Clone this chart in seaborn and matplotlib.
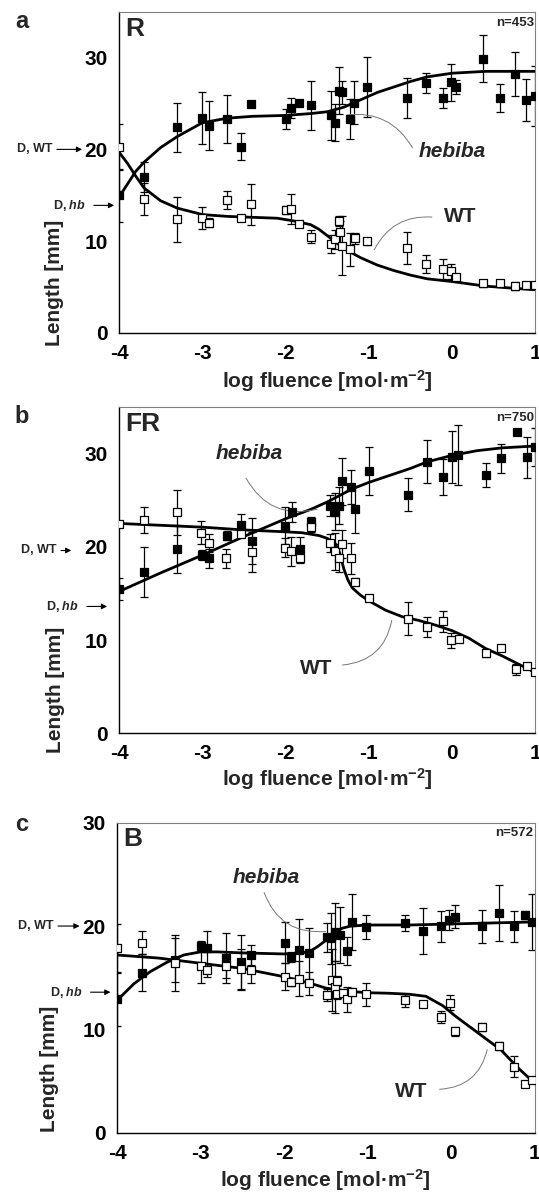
#!/usr/bin/env python3
import matplotlib
matplotlib.use('Agg')
import matplotlib.pyplot as plt
import seaborn as sns

# ---- panel a (R) ----
A_HB_X = [-4.0, -3.70, -3.30, -3.00, -2.92, -2.70, -2.53, -2.42, -2.00, -1.93, -1.84, -1.70, -1.46, -1.41, -1.36,
          -1.32, -1.23, -1.18, -1.02, -0.54, -0.32, -0.11, -0.02, 0.05, 0.37, 0.57, 0.75, 0.89, 1.0]
A_HB_Y = [15.0, 17.0, 22.4, 23.4, 22.6, 23.3, 20.3, 24.9, 23.3, 24.5, 25.0, 24.8, 23.7, 22.9, 26.4,
          26.2, 23.3, 25.1, 26.8, 25.6, 27.2, 25.6, 27.3, 26.8, 29.9, 25.6, 28.2, 25.4, 25.8]
A_HB_ERR = [2.9, 1.6, 2.7, 2.8, 2.7, 2.6, 1.5, 0.3, 1.1, 1.1, 0.3, 2.7, 2.7, 2.0, 2.6,
            1.3, 2.2, 2.3, 3.3, 2.2, 1.1, 1.1, 2.0, 0.8, 2.6, 1.5, 2.4, 2.3, 3.3]
A_WT_X = [-4.0, -3.70, -3.30, -3.00, -2.92, -2.70, -2.53, -2.41, -2.00, -1.93, -1.84, -1.70, -1.46, -1.41, -1.36,
          -1.35, -1.32, -1.23, -1.17, -1.02, -0.54, -0.32, -0.11, -0.02, 0.05, 0.37, 0.57, 0.75, 0.89, 1.0]
A_WT_Y = [20.3, 14.6, 12.4, 12.5, 12.0, 14.5, 12.5, 14.0, 13.4, 13.5, 11.9, 10.5, 9.7, 10.2, 12.2,
          11.0, 9.5, 9.1, 10.3, 10.0, 9.3, 7.5, 7.0, 6.7, 6.1, 5.4, 5.4, 5.1, 5.2, 5.2]
A_WT_ERR = [2.5, 1.7, 2.45, 1.2, 0.5, 1.0, 0.3, 2.2, 0.4, 1.6, 0.3, 0.7, 1.0, 1.0, 0.5,
            1.2, 3.2, 1.8, 0.6, 0.4, 1.75, 0.95, 1.1, 0.8, 0.3, 0.4, 0.3, 0.4, 0.3, 0.3]
A_HB_FIT_X = [-4.0, -3.9, -3.8, -3.7, -3.5, -3.3, -3.0, -2.7, -2.4, -2.0, -1.7, -1.5, -1.3, -1.1, -0.9,
              -0.7, -0.5, -0.3, 0.0, 0.4, 1.0]
A_HB_FIT_Y = [14.8, 16.2, 17.6, 18.6, 20.2, 21.4, 22.9, 23.4, 23.6, 23.7, 23.9, 24.1, 24.6, 25.4, 26.2,
              26.8, 27.4, 27.9, 28.3, 28.5, 28.5]
A_WT_FIT_X = [-4.0, -3.9, -3.8, -3.7, -3.5, -3.3, -3.0, -2.7, -2.4, -2.1, -1.9, -1.7, -1.6, -1.5, -1.3,
              -1.1, -0.9, -0.7, -0.5, -0.3, 0.0, 0.4, 1.0]
A_WT_FIT_Y = [19.7, 18.5, 17.1, 15.8, 14.4, 13.6, 12.9, 12.7, 12.6, 12.5, 12.2, 11.8, 11.3, 10.6, 9.2,
              8.2, 7.4, 6.8, 6.3, 5.9, 5.6, 5.1, 4.7]

# ---- panel b (FR) ----
B_HB_X = [-4.0, -3.70, -3.30, -3.00, -2.92, -2.70, -2.54, -2.40, -2.01, -1.92, -1.83, -1.70, -1.47, -1.41, -1.36,
          -1.32, -1.22, -1.17, -1.00, -0.53, -0.30, -0.11, 0.00, 0.07, 0.40, 0.59, 0.78, 0.90, 1.0]
B_HB_Y = [15.5, 17.3, 19.75, 19.1, 18.75, 21.2, 22.3, 20.6, 22.25, 23.7, 19.8, 22.7, 24.4, 23.75, 24.4,
          27.0, 26.4, 24.0, 28.1, 25.6, 29.1, 27.5, 29.6, 29.8, 27.7, 29.5, 32.25, 29.6, 30.7]
B_HB_ERR = [1.2, 2.7, 2.6, 0.5, 1.0, 0.5, 1.2, 2.5, 2.0, 1.1, 1.2, 0.5, 1.1, 2.0, 2.0,
            2.5, 1.8, 2.5, 2.6, 1.8, 2.3, 1.9, 2.8, 3.2, 1.3, 1.55, 0.3, 2.2, 2.0]
B_WT_X = [-4.0, -3.70, -3.30, -3.01, -2.92, -2.71, -2.53, -2.40, -2.01, -1.93, -1.83, -1.70, -1.47, -1.41, -1.36,
          -1.32, -1.22, -1.17, -1.00, -0.53, -0.30, -0.11, -0.01, 0.08, 0.40, 0.59, 0.77, 0.90, 0.99]
B_WT_Y = [22.4, 22.9, 23.7, 21.5, 20.4, 18.75, 21.4, 19.4, 19.9, 19.5, 18.75, 22.1, 20.4, 19.5, 18.75,
          20.3, 18.75, 16.25, 14.5, 12.3, 11.4, 12.0, 10.0, 10.1, 8.6, 9.2, 6.85, 7.2, 6.6]
B_WT_ERR = [0.3, 1.4, 2.4, 1.25, 1.0, 1.05, 0.3, 2.15, 1.0, 1.55, 0.5, 0.5, 1.0, 2.0, 1.5,
            1.5, 1.7, 0.4, 0.3, 1.75, 1.05, 1.1, 0.8, 0.3, 0.4, 0.3, 0.6, 0.3, 0.3]
B_HB_FIT_X = [-4.0, -3.5, -3.0, -2.5, -2.0, -1.7, -1.5, -1.2, -1.0, -0.7, -0.5, -0.3, 0.0, 0.3, 0.6, 1.0]
B_HB_FIT_Y = [15.2, 17.2, 19.1, 21.1, 23.0, 24.0, 24.8, 26.2, 26.9, 27.8, 28.4, 29.1, 29.8, 30.3, 30.6, 30.8]
B_WT_FIT_X = [-4.0, -3.5, -3.0, -2.5, -2.0, -1.8, -1.6, -1.5, -1.4, -1.35, -1.3, -1.25, -1.2, -1.1, -1.0,
              -0.8, -0.6, -0.4, -0.2, 0.0, 0.2, 0.4, 0.6, 0.8, 1.0]
B_WT_FIT_Y = [22.5, 22.3, 22.1, 21.8, 21.6, 21.5, 21.2, 20.9, 20.3, 19.3, 17.6, 16.4, 15.6, 14.8, 14.2,
              13.2, 12.5, 12.1, 11.6, 11.0, 10.2, 9.1, 8.3, 7.4, 6.5]

# ---- panel c (B) ----
C_HB_X = [-4.0, -3.70, -3.30, -3.00, -2.92, -2.69, -2.52, -2.40, -1.99, -1.92, -1.82, -1.70, -1.49, -1.44, -1.39,
          -1.33, -1.25, -1.18, -1.02, -0.55, -0.33, -0.12, -0.02, 0.05, 0.37, 0.58, 0.76, 0.88, 0.97]
C_HB_Y = [12.9, 15.5, 16.7, 18.1, 17.9, 16.9, 16.5, 17.2, 18.4, 17.0, 17.7, 17.35, 18.9, 18.8, 19.4,
          19.1, 17.6, 20.4, 19.9, 20.3, 19.5, 20.0, 20.6, 20.9, 20.0, 21.3, 20.0, 21.1, 20.4]
C_HB_ERR = [2.55, 1.8, 2.15, 0.5, 1.6, 2.45, 2.6, 1.0, 2.0, 0.5, 3.0, 2.5, 1.4, 2.5, 2.8,
            2.7, 1.35, 2.7, 1.2, 0.8, 2.2, 1.5, 1.0, 1.1, 1.6, 2.7, 1.5, 0.4, 2.7]
C_WT_X = [-4.0, -3.70, -3.30, -3.00, -2.92, -2.69, -2.52, -2.40, -1.99, -1.92, -1.82, -1.70, -1.49, -1.43, -1.39,
          -1.37, -1.36, -1.29, -1.25, -1.18, -1.02, -0.55, -0.33, -0.12, -0.01, 0.05, 0.37, 0.58, 0.76, 0.88, 0.97]
C_WT_Y = [17.9, 18.4, 16.4, 16.1, 15.7, 16.1, 15.8, 15.7, 15.1, 14.6, 14.9, 14.45, 13.3, 14.8, 14.1,
          14.7, 13.4, 13.5, 12.9, 13.65, 13.4, 12.8, 12.45, 11.2, 12.6, 9.8, 10.2, 8.4, 6.4, 4.7, 5.1]
C_WT_ERR = [2.3, 1.1, 2.7, 1.6, 0.6, 1.1, 2.0, 1.2, 1.3, 0.4, 1.7, 1.1, 0.6, 3.0, 2.5,
            0.5, 0.5, 0.4, 1.2, 0.4, 1.1, 0.6, 0.3, 0.6, 0.7, 0.4, 0.4, 0.4, 1.05, 0.3, 0.3]
C_HB_FIT_X = [-4.0, -3.8, -3.6, -3.4, -3.2, -3.0, -2.8, -2.5, -2.0, -1.8, -1.7, -1.6, -1.5, -1.4, -1.3,
              -1.2, -1.0, -0.5, 0.0, 0.5, 1.0]
C_HB_FIT_Y = [12.8, 14.4, 15.6, 16.5, 17.2, 17.5, 17.5, 17.4, 17.3, 17.4, 17.5, 18.0, 18.6, 19.4, 19.8,
              20.0, 20.1, 20.1, 20.2, 20.3, 20.4]
C_WT_FIT_X = [-4.0, -3.5, -3.0, -2.5, -2.0, -1.7, -1.5, -1.25, -1.0, -0.75, -0.5, -0.3, -0.1, 0.05, 0.2,
              0.4, 0.6, 0.8, 1.0]
C_WT_FIT_Y = [17.2, 16.9, 16.4, 15.9, 15.1, 14.5, 14.0, 13.7, 13.55, 13.5, 13.4, 13.2, 12.3, 11.3, 10.4,
              9.2, 8.0, 6.3, 4.8]

PANELS = [
    dict(letter='a', light='R', n='n=453', ymax=35, rect=[0.2208, 0.7209, 0.7727, 0.2693],
         hb=(A_HB_X, A_HB_Y, A_HB_ERR), wt=(A_WT_X, A_WT_Y, A_WT_ERR),
         hb_fit=(A_HB_FIT_X, A_HB_FIT_Y), wt_fit=(A_WT_FIT_X, A_WT_FIT_Y),
         hb_txt=(0.0, 19.8), hb_from=(-0.46, 19.9), hb_to=(-1.30, 23.7), hb_rad=0.35,
         wt_txt=(0.10, 12.7), wt_from=(-0.21, 12.6), wt_to=(-0.95, 8.8), wt_rad=0.35,
         dwt=(20.0, -0.156, -0.082), dhb=(13.9, -0.067, -0.005), ylab_y=0.156, ylab_x=-0.132, xlab_y=-0.15,
         letter_y=0.982),
    dict(letter='b', light='FR', n='n=750', ymax=35, rect=[0.2208, 0.3853, 0.7727, 0.2737],
         hb=(B_HB_X, B_HB_Y, B_HB_ERR), wt=(B_WT_X, B_WT_Y, B_WT_ERR),
         hb_fit=(B_HB_FIT_X, B_HB_FIT_Y), wt_fit=(B_WT_FIT_X, B_WT_FIT_Y),
         hb_txt=(-2.44, 30.0), hb_from=(-2.49, 27.6), hb_to=(-1.59, 24.1), hb_rad=0.4,
         wt_txt=(-1.63, 7.0), wt_from=(-1.35, 7.3), wt_to=(-0.72, 12.4), wt_rad=0.4,
         dwt=(19.6, -0.146, -0.108), dhb=(13.6, -0.084, -0.022), ylab_y=0.133, ylab_x=-0.129, xlab_y=-0.14,
         letter_y=0.651),
    dict(letter='c', light='B', n='n=572', ymax=30, rect=[0.2171, 0.0505, 0.7746, 0.2599],
         hb=(C_HB_X, C_HB_Y, C_HB_ERR), wt=(C_WT_X, C_WT_Y, C_WT_ERR),
         hb_fit=(C_HB_FIT_X, C_HB_FIT_Y), wt_fit=(C_WT_FIT_X, C_WT_FIT_Y),
         hb_txt=(-2.21, 24.7), hb_from=(-2.25, 23.5), hb_to=(-1.47, 19.5), hb_rad=0.4,
         wt_txt=(-0.48, 4.0), wt_from=(-0.17, 4.2), wt_to=(0.44, 8.3), wt_rad=0.4,
         dwt=(20.0, -0.148, -0.083), dhb=(13.6, -0.070, -0.009), ylab_y=0.205, ylab_x=-0.140, xlab_y=-0.153,
         letter_y=0.309),
]


def draw_panel(fig, p):
    ax = fig.add_axes(p['rect'])
    xs, ys, es = p['hb']
    xw, yw, ew = p['wt']
    ax.errorbar(xs, ys, yerr=es, fmt='none', ecolor='black', elinewidth=0.9, capsize=3, capthick=0.9, zorder=2)
    ax.errorbar(xw, yw, yerr=ew, fmt='none', ecolor='black', elinewidth=0.9, capsize=3, capthick=0.9, zorder=2)
    sns.lineplot(x=p['hb_fit'][0], y=p['hb_fit'][1], ax=ax, color='black', lw=2.0, zorder=3)
    sns.lineplot(x=p['wt_fit'][0], y=p['wt_fit'][1], ax=ax, color='black', lw=2.0, zorder=3)
    sns.scatterplot(x=xs, y=ys, ax=ax, marker='s', s=34, color='black', edgecolor='black', linewidth=0.9, zorder=4)
    sns.scatterplot(x=xw, y=yw, ax=ax, marker='s', s=34, color='white', edgecolor='black', linewidth=0.9, zorder=4)

    ax.set_xlim(-4, 1)
    ax.set_ylim(0, p['ymax'])
    ax.set_xticks(range(-4, 2))
    ax.set_xticklabels([str(v) for v in range(-4, 2)])
    yt = [0, 5, 10, 15, 20, 25, 30]
    ax.set_yticks(yt)
    ax.set_yticklabels([str(v) if v % 10 == 0 else '' for v in yt])
    ax.tick_params(direction='out', length=4, width=0.8, colors='black', labelsize=15, pad=4)
    for side in ('left', 'bottom'):
        ax.spines[side].set_color('black')
        ax.spines[side].set_linewidth(1.0)
    for side in ('top', 'right'):
        ax.spines[side].set_color('#808080')
        ax.spines[side].set_linewidth(0.8)

    ax.set_ylabel('Length [mm]', fontsize=15, fontweight='bold')
    ax.yaxis.set_label_coords(p['ylab_x'], p['ylab_y'])
    ax.set_xlabel('log fluence [mol·m$^{-2}$]', fontsize=15, fontweight='bold')
    ax.xaxis.label.set_va('center')
    ax.xaxis.set_label_coords(0.5, p['xlab_y'])

    ax.text(0.014, 0.985, p['light'], transform=ax.transAxes, ha='left', va='top', fontsize=19, fontweight='bold')
    ax.text(0.997, 0.985, p['n'], transform=ax.transAxes, ha='right', va='top', fontsize=9.5, fontweight='bold')

    ax.text(*p['hb_txt'], 'hebiba', ha='center', va='center', fontsize=15, fontweight='bold', style='italic', zorder=6)
    ax.text(*p['wt_txt'], 'WT', ha='center', va='center', fontsize=15, fontweight='bold', zorder=6)
    ax.annotate('', xy=p['hb_to'], xytext=p['hb_from'],
                arrowprops=dict(arrowstyle='-', color='#777777', lw=0.7,
                                connectionstyle=f"arc3,rad={p['hb_rad']}"))
    ax.annotate('', xy=p['wt_to'], xytext=p['wt_from'],
                arrowprops=dict(arrowstyle='-', color='#777777', lw=0.7,
                                connectionstyle=f"arc3,rad={p['wt_rad']}"))

    ytr = ax.get_yaxis_transform()
    yv, x0, x1 = p['dwt']
    ax.annotate('', xy=(x1, yv), xytext=(x0, yv), xycoords=ytr, textcoords=ytr,
                arrowprops=dict(arrowstyle='-|>', color='black', lw=0.8, mutation_scale=8), annotation_clip=False)
    ax.text(x0 - 0.004, yv, 'D, WT', transform=ytr, ha='right', va='center', fontsize=9, fontweight='bold')
    yv, x0, x1 = p['dhb']
    ax.annotate('', xy=(x1, yv), xytext=(x0, yv), xycoords=ytr, textcoords=ytr,
                arrowprops=dict(arrowstyle='-|>', color='black', lw=0.8, mutation_scale=8), annotation_clip=False)
    ax.text(x0 - 0.012, yv, 'D, $\\mathit{hb}$', transform=ytr, ha='right', va='center', fontsize=9,
            fontweight='bold')

    fig.text(0.04, p['letter_y'], p['letter'], ha='center', va='center', fontsize=17, fontweight='bold')
    return ax


def main():
    sns.set_theme(style='white')
    plt.rcParams['font.family'] = ['Liberation Sans', 'DejaVu Sans']
    plt.rcParams['font.weight'] = 'bold'
    plt.rcParams['mathtext.fontset'] = 'custom'
    plt.rcParams['mathtext.rm'] = 'Liberation Sans:bold'
    plt.rcParams['mathtext.it'] = 'Liberation Sans:bold:italic'
    plt.rcParams['mathtext.bf'] = 'Liberation Sans:bold'
    plt.rcParams['mathtext.default'] = 'rm'

    fig = plt.figure(figsize=(5.39, 11.93), dpi=100)
    for p in PANELS:
        draw_panel(fig, p)
    fig.savefig('out.png', dpi=100)


if __name__ == '__main__':
    main()
